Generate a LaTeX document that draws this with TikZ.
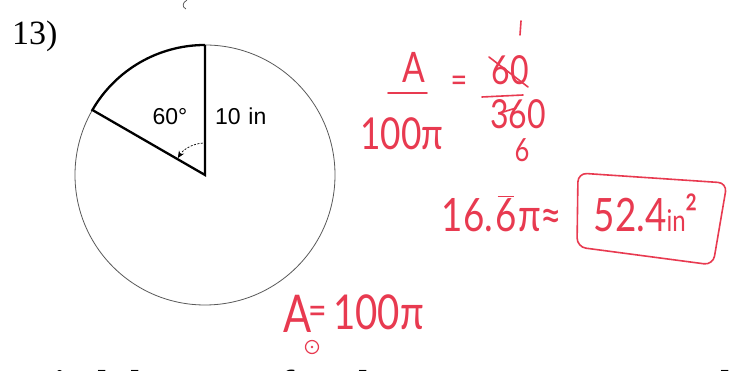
\documentclass[tikz,border=0pt]{standalone}
\usepackage{fontspec}
\setmainfont{Liberation Serif}
\newfontfamily\figsans{Liberation Sans}
\newfontfamily\hand{Lato}[FakeStretch=0.8]
\usetikzlibrary{arrows.meta}
\definecolor{pen}{RGB}{232,58,80}
\newcommand\fs[1]{\fontsize{#1}{#1}\selectfont}
\newcommand\ovsix{\leavevmode\vbox{\offinterlineskip\hbox to 0.55em{\hfil\vrule height 1.4pt width 0.35em\hfil}\kern 2pt\hbox to 0.55em{\hfil 6\hfil}}}
\begin{document}
\begin{tikzpicture}[x=1pt,y=1pt,
  hw/.style={text=pen, inner sep=0pt, anchor=base, font=\hand},
  redline/.style={draw=pen, line width=1.6pt, line cap=round, line join=round},
  circ/.style={draw=black!65, line width=0.8pt},
  sector/.style={draw=black, line width=2.3pt, line join=miter},
  lbl/.style={inner sep=0pt, anchor=base, font=\figsans\fs{23}}]
\useasboundingbox (0,0) rectangle (744,371);
\clip (0,0) rectangle (744,371);
\fill[white] (0,0) rectangle (744,371);

% problem number
\node[inner sep=0pt, anchor=base west, font=\fs{34}] (num) at (12,326) {13)};
% stray mark
\draw[black!70, line width=0.7pt] (187,371) .. controls (182,368) and (182,364) .. (186,362);

% circle and sector
\coordinate (C) at (205,196);
\coordinate (T) at (205,326);
\coordinate (S) at (92.4,261);
\draw[circ] (C) circle[radius=130];
\draw[sector] (T) -- (C) -- (S) arc[start angle=150, end angle=90, radius=130];
% angle marker
\draw[black, line width=0.7pt, dash pattern=on 2pt off 1.5pt, -{Stealth[length=7pt,width=6pt]}]
  ([shift={(94:32)}]C) arc[start angle=94, end angle=148, radius=32];
\node[lbl] (ang) at (170,246) {60°};
\node[lbl, anchor=base west] (rad) at (215,246) {10\,\,in};

% handwritten work
\node[hw, font=\hand\fs{42}] (A1) at (414,288) {A};
\draw[redline] (388,278) -- (427,278);
\node[hw, font=\hand\fs{44}] (den) at (402,221) {100π};
\node[hw, font=\hand\fs{36}] (eq1) at (459,278) {=};
\draw[redline] (521,350) -- (520,336);
\node[hw, font=\hand\fs{40}] (sixty) at (510,286) {60};
\draw[redline] (489,314) -- (528,284);
\draw[redline] (482,274) -- (523,276);
\node[hw, font=\hand\fs{40}] (three) at (518,242) {360};
\draw[redline] (500,258) -- (516,263);
\node[hw, font=\hand\fs{32}] (six) at (522,209) {6};
\node[hw, font=\hand\fs{46}] (approx) at (502,139) {16.\ovsix π≈};
\node[hw, font=\hand\fs{46}] (ans) at (646,139) {52.4{\fs{30}in}²};
\draw[redline, rounded corners=9pt] (578,198) -- (727,188) -- (713,106) -- (577,124) -- cycle;

\node[hw, font=\hand\fs{52}, anchor=base west] (Acirc) at (283,38) {A};
\node[hw, font=\hand\fs{40}] (eq2) at (318,46) {=};
\node[hw, font=\hand\fs{48}, anchor=base west] (hund) at (333,41) {100π};
\draw[redline, line width=1.2pt] (312,24) circle[radius=6.5];
\fill[pen] (312,24) circle[radius=1.3];

% bottom instruction (cut off)
\node[inner sep=0pt, anchor=base west, font=\bfseries\fs{39}] (instr) at (30,-27)
  {Find the area of each sector. Do not round};
\end{tikzpicture}
\end{document}
